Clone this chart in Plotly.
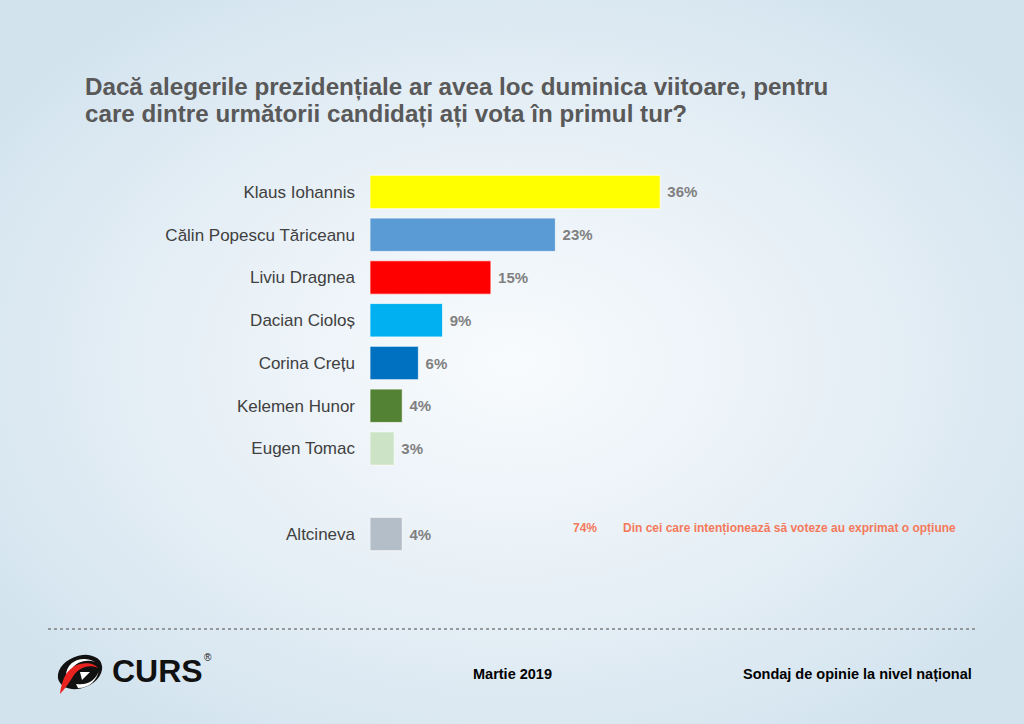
import base64
import plotly.graph_objects as go

# ---- data ----
candidates = ["Klaus Iohannis", "Călin Popescu Tăriceanu", "Liviu Dragnea", "Dacian Cioloș",
              "Corina Crețu", "Kelemen Hunor", "Eugen Tomac", "Altcineva"]
values = [36, 23, 15, 9, 6, 4, 3, 4]
positions = [0, 1, 2, 3, 4, 5, 6, 8]
colors = ["#FFFF00", "#5B9BD5", "#FF0000", "#00B0F0", "#0070C0", "#548235", "#CCE3C6", "#B4BEC9"]
value_labels = [f" {v}%" for v in values]
title_lines = ["Dacă alegerile prezidențiale ar avea loc duminica viitoare, pentru",
               "care dintre următorii candidați ați vota în primul tur?"]
note_pct = "74%"
note_text = "Din cei care intenționează să voteze au exprimat o opțiune"
footer_date = "Martie 2019"
footer_right = "Sondaj de opinie la nivel național"

W, H = 1024, 724
def px(x): return x / W
def py(y): return 1 - y / H

# background gradient + logo graphic
svg = f'''<svg xmlns="http://www.w3.org/2000/svg" width="{W}" height="{H}" viewBox="0 0 {W} {H}" preserveAspectRatio="none">
<defs>
<radialGradient id="g" cx="0.5" cy="0.5" r="0.62">
<stop offset="0" stop-color="#F8FBFD"/>
<stop offset="0.55" stop-color="#E6EFF6"/>
<stop offset="1" stop-color="#D2E3EE"/>
</radialGradient>
</defs>
<rect x="0" y="0" width="{W}" height="{H}" fill="url(#g)"/>
<g transform="rotate(-22 80 672)">
<ellipse cx="80" cy="672" rx="23" ry="16" fill="#111"/>
</g>
<path d="M66 676 C66 660 84 655 95 662 C88 659 76 661 72 669 Z" fill="#fff"/>
<path d="M76 684 C88 686 97 679 99 670 C97 680 90 688 78 688 Z" fill="#fff"/>
<path d="M60 694 C62 680 66 668 80 664 C88 662 95 664 98 668 C90 664 80 667 74 675 C70 681 66 688 60 694 Z" fill="#E8231F"/>
<path d="M80 672 L90 672 L82 680 Z" fill="#fff"/>
</svg>'''
bg_src = "data:image/svg+xml;base64," + base64.b64encode(svg.encode("utf-8")).decode("ascii")

fig = go.Figure()
fig.add_trace(go.Bar(
    x=values, y=positions, orientation="h",
    marker=dict(color=colors, line=dict(color="rgba(255,255,255,0.7)", width=1)),
    width=0.78,
    text=value_labels, textposition="outside",
    textfont=dict(family="Liberation Sans, Arial", size=15, color="#808080", weight="bold"),
    cliponaxis=False, hoverinfo="skip",
))

top, bottom = 170.6, 555.4
fig.update_layout(
    width=W, height=H,
    margin=dict(l=0, r=0, t=0, b=0),
    paper_bgcolor="#E4EEF5", plot_bgcolor="rgba(0,0,0,0)",
    showlegend=False,
    font=dict(family="Liberation Sans, Arial"),
    xaxis=dict(domain=[px(370), 1], range=[0, 654 / 8.06], visible=False, fixedrange=True),
    yaxis=dict(domain=[py(bottom), py(top)], range=[8.5, -0.5], tickmode="array",
               tickvals=positions, ticktext=candidates, showgrid=False, zeroline=False,
               showline=False, ticks="", ticklabelstandoff=14, fixedrange=True,
               tickfont=dict(size=17, color="#404040", family="Liberation Sans, Arial")),
    images=[dict(source=bg_src, xref="paper", yref="paper", x=0, y=1, sizex=1, sizey=1,
                 sizing="stretch", layer="below", xanchor="left", yanchor="top")],
)

for line, yc in zip(title_lines, [87, 114]):
    fig.add_annotation(text=line, xref="paper", yref="paper", x=px(83), y=py(yc),
                       xanchor="left", yanchor="middle", align="left", showarrow=False,
                       font=dict(size=24.2, color="#595959", family="Liberation Sans, Arial", weight="bold"))

fig.add_annotation(text=note_pct, xref="paper", yref="paper", x=px(585), y=py(528),
                   xanchor="center", yanchor="middle", showarrow=False,
                   font=dict(size=12, color="#F4795B", weight="bold"))
fig.add_annotation(text=note_text, xref="paper", yref="paper", x=px(621), y=py(528),
                   xanchor="left", yanchor="middle", showarrow=False,
                   font=dict(size=12, color="#F4795B", weight="bold"))

fig.add_shape(type="line", xref="paper", yref="paper", x0=px(48), x1=px(975), y0=py(629), y1=py(629),
              line=dict(color="#7F7F7F", width=1.5, dash="dot"))

fig.add_annotation(text=footer_date, xref="paper", yref="paper", x=px(512), y=py(674),
                   xanchor="center", yanchor="middle", showarrow=False,
                   font=dict(size=14.5, color="#000", weight="bold"))
fig.add_annotation(text=footer_right, xref="paper", yref="paper", x=px(974), y=py(674),
                   xanchor="right", yanchor="middle", showarrow=False,
                   font=dict(size=14.5, color="#000", weight="bold"))

fig.add_annotation(text="CURS", xref="paper", yref="paper", x=px(110), y=py(671),
                   xanchor="left", yanchor="middle", showarrow=False,
                   font=dict(size=32, color="#111", family="Liberation Sans, Arial", weight="bold"))
fig.add_annotation(text="®", xref="paper", yref="paper", x=px(208), y=py(657),
                   xanchor="center", yanchor="middle", showarrow=False,
                   font=dict(size=10, color="#111"))

fig.write_html("out.html", config={"displayModeBar": False},
               post_script="document.body.style.margin='0px';document.body.style.overflow='hidden';")
